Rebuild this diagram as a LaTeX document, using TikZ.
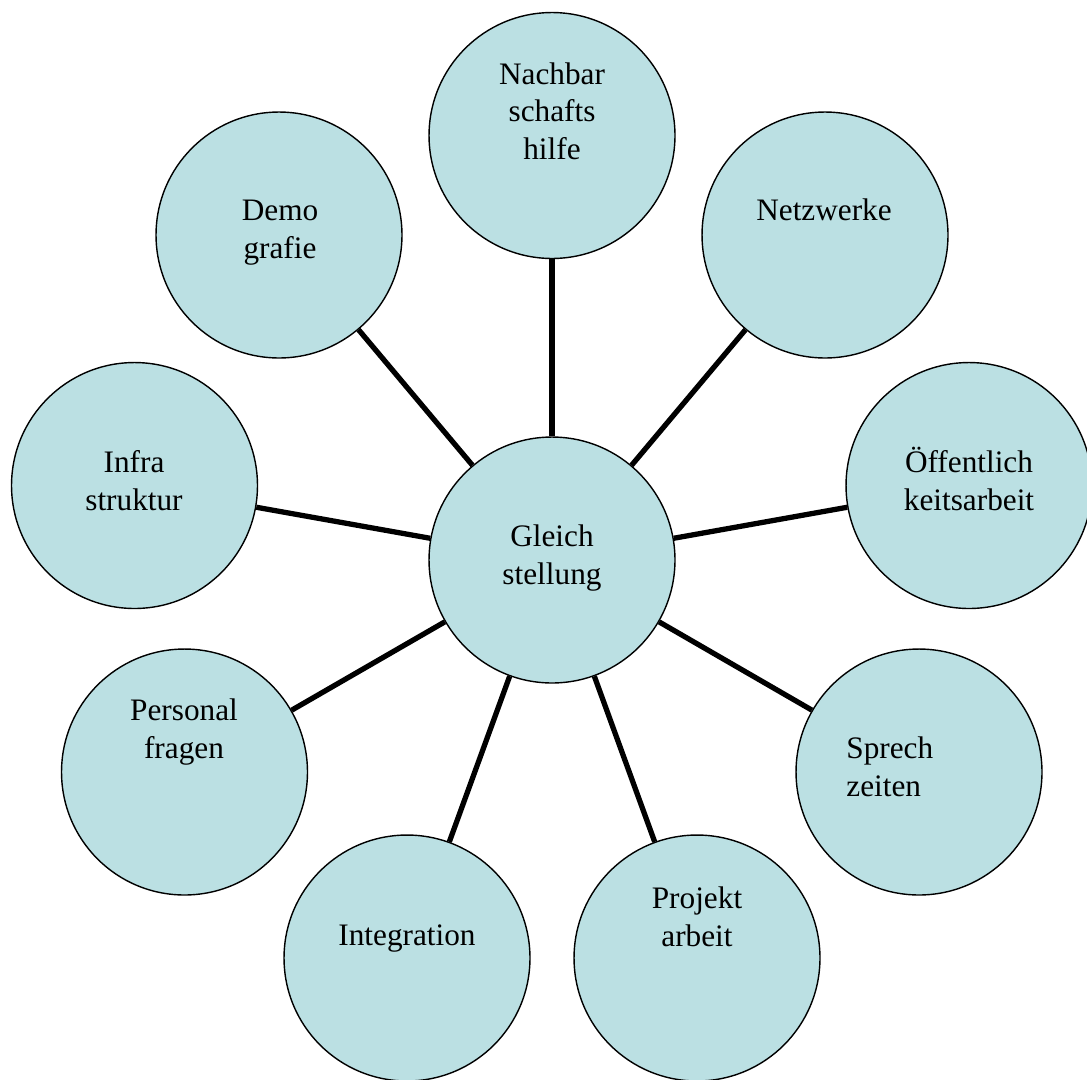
\documentclass[tikz,border=0pt]{standalone}
\usepackage{fontspec}
\setmainfont{Liberation Serif}
\definecolor{blobfill}{HTML}{BBE0E3}
\begin{document}
\begin{tikzpicture}[x=0.02cm, y=-0.02cm,
		blob/.style={circle, draw, line width=0.8pt, fill=blobfill, minimum size=4.92cm, inner sep=0pt},
		txt/.style={anchor=base, align=center, inner sep=0pt, font=\fontsize{17.8}{21.3}\selectfont},
		link/.style={line width=3pt}]
		\useasboundingbox (0,0) rectangle (1087,1079);
		
		\node[blob] (gleich) at (552,560) {};
		\node[blob] (nachbar) at (552,135.5) {};
		\node[blob] (netz) at (825,235) {};
		\node[blob] (oeff) at (969,485.5) {};
		\node[blob] (sprech) at (919,772) {};
		\node[blob] (projekt) at (697,958) {};
		\node[blob] (integ) at (407,958) {};
		\node[blob] (personal) at (184.5,772) {};
		\node[blob] (infra) at (134.5,485.5) {};
		\node[blob] (demo) at (279,235) {};
		
		\foreach \to in {nachbar,netz,oeff,sprech,projekt,integ,personal,infra,demo}
		\draw[link] (gleich) -- (\to);
		
		% texts sit on the baseline of their last line
		\node[txt] (gleich-t) at (552,584) {Gleich\\stellung};
		\node[txt] (nachbar-t) at (552,159) {Nachbar\\schafts\\hilfe};
		\node[txt] (netz-t) at (824,220) {Netzwerke};
		\node[txt] (oeff-t) at (969,510) {Öffentlich\\keitsarbeit};
		\node[txt, anchor=base west, align=left] (sprech-t) at (846,796) {Sprech\\zeiten};
		\node[txt] (projekt-t) at (697,946) {Projekt\\arbeit};
		\node[txt] (integ-t) at (407,945) {Integration};
		\node[txt] (personal-t) at (184,758) {Personal\\fragen};
		\node[txt] (infra-t) at (134,510) {Infra\\struktur};
		\node[txt] (demo-t) at (280,258) {Demo\\grafie};
\end{tikzpicture}
\end{document}
